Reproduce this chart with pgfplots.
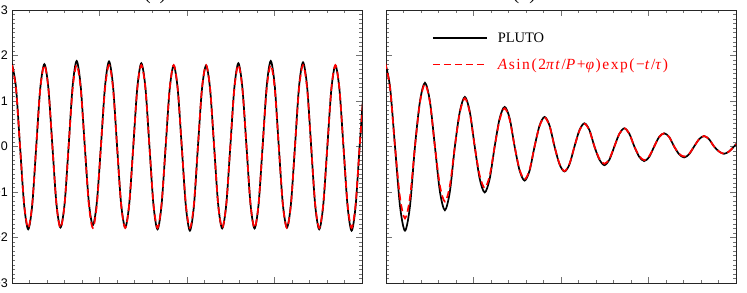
\documentclass[border=0pt]{standalone}
\usepackage{fontspec}
\setmainfont{Liberation Serif}
\newfontfamily\sansf{Liberation Sans}
\newfontfamily\spacedserif[LetterSpace=10]{Liberation Serif}
\usepackage{pgfplots}
\pgfplotsset{compat=1.18}
\definecolor{pred}{RGB}{255,0,0}

\pgfplotsset{
  common/.style={
    scale only axis, width=350bp, height=273bp,
    xmin=0, xmax=40, ymin=-3, ymax=3,
    xtick={0,10,20,30,40}, minor x tick num=4,
    ytick={-3,-2,-1,0,1,2,3}, minor y tick num=9,
    xticklabels={},
    tick align=inside,
    major tick length=6bp, minor tick length=3bp,
    every tick/.style={black!55, line width=0.6bp},
    axis line style={line width=0.9bp, black!85},
    no markers,
    title style={at={(0.5,1)}, anchor=base, yshift=5bp, inner sep=0pt,
      font=\fontsize{20bp}{22bp}\selectfont},
  },
  pluto/.style={black, line width=1.7bp, smooth},
  fit/.style={pred, line width=1.7bp, smooth, dash pattern=on 7bp off 4bp},
}

\begin{document}
\begin{tikzpicture}
\begin{axis}[common, at={(12bp,10bp)}, anchor=south west,
  title={(a) \textit{E}/\textit{R}\,=\,\textit{π}},
  yticklabels={−3,−2,−1,0,1,2,3},
  yticklabel style={font=\sansf\fontsize{12.5bp}{14bp}\selectfont, anchor=east, inner sep=0pt, xshift=-4bp},
]
\addplot[pluto] coordinates {
(0.00,1.82) (0.46,1.29) (0.92,0) (1.39,-1.29) (1.85,-1.82) (2.31,-1.29) (2.77,0) (3.23,1.28)
(3.70,1.81) (4.16,1.28) (4.62,0) (5.08,-1.26) (5.54,-1.78) (6.01,-1.26) (6.47,0) (6.93,1.33)
(7.39,1.88) (7.85,1.33) (8.32,0) (8.78,-1.22) (9.24,-1.73) (9.70,-1.22) (10.16,0) (10.63,1.32)
(11.09,1.87) (11.55,1.32) (12.01,0) (12.47,-1.26) (12.94,-1.78) (13.40,-1.26) (13.86,0) (14.32,1.29)
(14.78,1.83) (15.25,1.29) (15.71,0) (16.17,-1.29) (16.63,-1.82) (17.09,-1.29) (17.56,0) (18.02,1.26)
(18.48,1.78) (18.94,1.26) (19.40,0) (19.87,-1.31) (20.33,-1.85) (20.79,-1.31) (21.25,0) (21.71,1.26)
(22.18,1.78) (22.64,1.26) (23.10,0) (23.56,-1.27) (24.02,-1.80) (24.49,-1.27) (24.95,0) (25.41,1.29)
(25.87,1.83) (26.33,1.29) (26.80,0) (27.26,-1.27) (27.72,-1.80) (28.18,-1.27) (28.64,0) (29.11,1.33)
(29.57,1.88) (30.03,1.33) (30.49,0) (30.95,-1.26) (31.42,-1.78) (31.88,-1.26) (32.34,0) (32.80,1.31)
(33.26,1.85) (33.73,1.31) (34.19,0) (34.65,-1.29) (35.11,-1.82) (35.57,-1.29) (36.04,0) (36.50,1.26)
(36.96,1.78) (37.42,1.26) (37.88,0) (38.35,-1.31) (38.81,-1.85) (39.27,-1.31) (39.73,0) (40.19,1.27)
};
\addplot[fit] coordinates {
(0.00,1.79) (0.46,1.27) (0.92,0) (1.39,-1.27) (1.85,-1.79) (2.31,-1.27) (2.77,0) (3.23,1.27)
(3.70,1.79) (4.16,1.27) (4.62,0) (5.08,-1.27) (5.54,-1.79) (6.01,-1.27) (6.47,0) (6.93,1.27)
(7.39,1.79) (7.85,1.27) (8.32,0) (8.78,-1.27) (9.24,-1.79) (9.70,-1.27) (10.16,0) (10.63,1.27)
(11.09,1.79) (11.55,1.27) (12.01,0) (12.47,-1.27) (12.94,-1.79) (13.40,-1.27) (13.86,0) (14.32,1.27)
(14.78,1.79) (15.25,1.27) (15.71,0) (16.17,-1.27) (16.63,-1.79) (17.09,-1.27) (17.56,0) (18.02,1.27)
(18.48,1.79) (18.94,1.27) (19.40,0) (19.87,-1.27) (20.33,-1.79) (20.79,-1.27) (21.25,0) (21.71,1.27)
(22.18,1.79) (22.64,1.27) (23.10,0) (23.56,-1.27) (24.02,-1.79) (24.49,-1.27) (24.95,0) (25.41,1.27)
(25.87,1.79) (26.33,1.27) (26.80,0) (27.26,-1.27) (27.72,-1.79) (28.18,-1.27) (28.64,0) (29.11,1.27)
(29.57,1.79) (30.03,1.27) (30.49,0) (30.95,-1.27) (31.42,-1.79) (31.88,-1.27) (32.34,0) (32.80,1.27)
(33.26,1.79) (33.73,1.27) (34.19,0) (34.65,-1.27) (35.11,-1.79) (35.57,-1.27) (36.04,0) (36.50,1.27)
(36.96,1.79) (37.42,1.27) (37.88,0) (38.35,-1.27) (38.81,-1.79) (39.27,-1.27) (39.73,0) (40.19,1.20)
};
\end{axis}

\begin{axis}[common, at={(386bp,10bp)}, anchor=south west,
  title={(b) \textit{E}/\textit{R}\,=\,3\textit{π}},
  yticklabels={},
  legend style={at={(rel axis cs:0.131,0.926)}, anchor=north west, draw=none, fill=none,
    font=\fontsize{14.5bp}{16bp}\selectfont, row sep=11bp, column sep=8bp, inner sep=0pt,
    nodes={inner sep=2bp}},
  legend cell align=left,
  legend image code/.code={\draw[#1, smooth=false] (0bp,0bp) -- (54bp,0bp);},
]
\addplot[pluto] coordinates {
(-0.11,1.85) (0.46,1.31) (1.03,0) (1.60,-1.31) (2.17,-1.85) (2.74,-1.31) (3.31,0) (3.88,0.99)
(4.45,1.40) (5.02,0.99) (5.59,0) (6.16,-0.99) (6.73,-1.40) (7.30,-0.99) (7.87,0) (8.44,0.77)
(9.01,1.09) (9.57,0.77) (10.14,0) (10.71,-0.71) (11.28,-1.01) (11.85,-0.71) (12.42,0) (12.99,0.62)
(13.56,0.87) (14.13,0.62) (14.70,0) (15.27,-0.53) (15.84,-0.75) (16.41,-0.53) (16.98,0) (17.55,0.46)
(18.12,0.65) (18.69,0.46) (19.26,0) (19.83,-0.39) (20.40,-0.55) (20.97,-0.39) (21.54,0) (22.11,0.36)
(22.68,0.51) (23.25,0.36) (23.82,0) (24.39,-0.29) (24.96,-0.41) (25.53,-0.29) (26.10,0) (26.67,0.28)
(27.24,0.40) (27.81,0.28) (28.38,0) (28.95,-0.23) (29.51,-0.32) (30.08,-0.23) (30.65,0) (31.22,0.21)
(31.79,0.29) (32.36,0.21) (32.93,0) (33.50,-0.17) (34.07,-0.24) (34.64,-0.17) (35.21,0) (35.78,0.16)
(36.35,0.23) (36.92,0.16) (37.49,0) (38.06,-0.11) (38.63,-0.16) (39.20,-0.11) (39.77,0) (40.34,0.12)
};
\addlegendentry{PLUTO}
\addplot[fit] coordinates {
(-0.11,1.85) (0.46,1.29) (1.03,0) (1.60,-1.12) (2.17,-1.58) (2.74,-1.12) (3.31,0) (3.88,0.97)
(4.45,1.37) (5.02,0.97) (5.59,0) (6.16,-0.86) (6.73,-1.21) (7.30,-0.86) (7.87,0) (8.44,0.75)
(9.01,1.06) (9.57,0.75) (10.14,0) (10.71,-0.64) (11.28,-0.91) (11.85,-0.64) (12.42,0) (12.99,0.59)
(13.56,0.84) (14.13,0.59) (14.70,0) (15.27,-0.51) (15.84,-0.72) (16.41,-0.51) (16.98,0) (17.55,0.45)
(18.12,0.64) (18.69,0.45) (19.26,0) (19.83,-0.38) (20.40,-0.54) (20.97,-0.38) (21.54,0) (22.11,0.35)
(22.68,0.50) (23.25,0.35) (23.82,0) (24.39,-0.27) (24.96,-0.38) (25.53,-0.27) (26.10,0) (26.67,0.28)
(27.24,0.40) (27.81,0.28) (28.38,0) (28.95,-0.21) (29.51,-0.30) (30.08,-0.21) (30.65,0) (31.22,0.21)
(31.79,0.29) (32.36,0.21) (32.93,0) (33.50,-0.16) (34.07,-0.22) (34.64,-0.16) (35.21,0) (35.78,0.16)
(36.35,0.23) (36.92,0.16) (37.49,0) (38.06,-0.11) (38.63,-0.16) (39.20,-0.11) (39.77,0) (40.34,0.11)
};
\addlegendentry{\spacedserif\fontsize{15.5bp}{16bp}\selectfont\textcolor{pred}{\textit{A}sin(2\textit{πt}/\textit{P}+\textit{φ})exp(−\textit{t}/\textit{τ})}}
\end{axis}
\pgfresetboundingbox
\useasboundingbox (0,0) rectangle (747bp,293bp);
\end{tikzpicture}
\end{document}
